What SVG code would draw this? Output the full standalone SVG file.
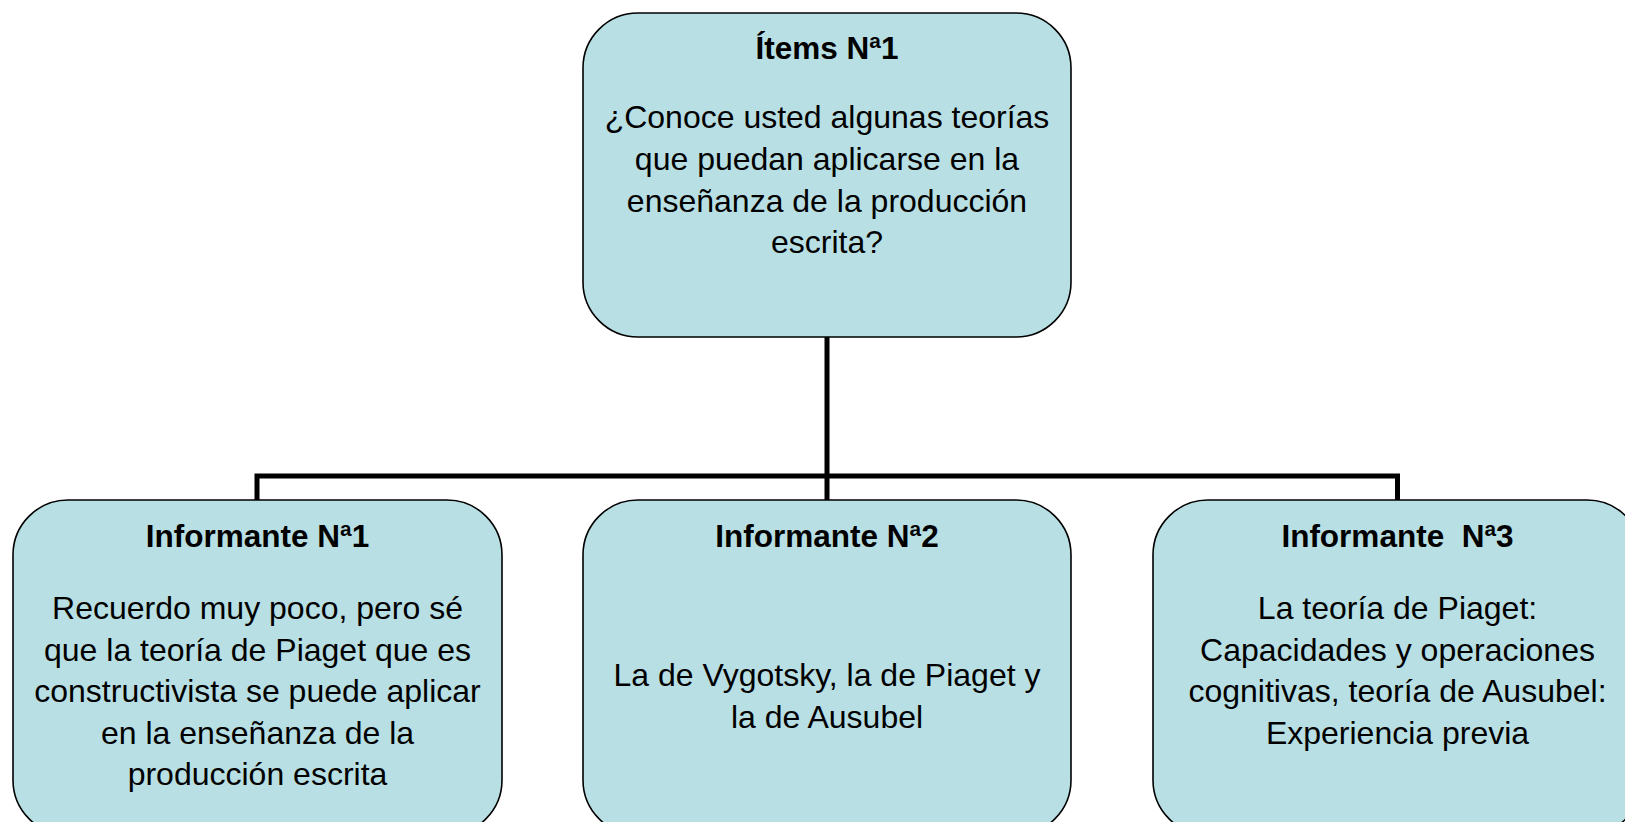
<svg xmlns="http://www.w3.org/2000/svg" width="1625" height="822" viewBox="0 0 1625 822">
<style>
.box{fill:#B8DFE3;stroke:#000;stroke-width:1.6}
.t{font-family:"Liberation Sans",Arial,sans-serif;font-weight:bold;font-size:31.5px;text-anchor:middle;fill:#000}
.b{font-family:"Liberation Sans",Arial,sans-serif;font-size:32px;text-anchor:middle;fill:#000}
.c{fill:none;stroke:#000;stroke-width:5}
</style>
<rect width="1625" height="822" fill="#fff"/>
<g id="connectors">
<path class="c" d="M827 337 V500"/>
<path class="c" d="M257 500 V476 H1397.5 V500"/>
</g>
<g id="items1">
<rect class="box" x="583" y="13" width="488" height="324" rx="55" ry="55"/>
<text class="t" x="827" y="59">Ítems Nª1</text>
<text class="b" x="827" y="128">¿Conoce usted algunas teorías</text>
<text class="b" x="827" y="170">que puedan aplicarse en la</text>
<text class="b" x="827" y="212">enseñanza de la producción</text>
<text class="b" x="827" y="253">escrita?</text>
</g>
<g id="informante1">
<rect class="box" x="13" y="500" width="489" height="335" rx="55" ry="55"/>
<text class="t" x="257.5" y="547">Informante Nª1</text>
<text class="b" x="257.5" y="619">Recuerdo muy poco, pero sé</text>
<text class="b" x="257.5" y="660.5">que la teoría de Piaget que es</text>
<text class="b" x="257.5" y="702">constructivista se puede aplicar</text>
<text class="b" x="257.5" y="743.5">en la enseñanza de la</text>
<text class="b" x="257.5" y="785">producción escrita</text>
</g>
<g id="informante2">
<rect class="box" x="583" y="500" width="488" height="335" rx="55" ry="55"/>
<text class="t" x="827" y="547">Informante Nª2</text>
<text class="b" x="827" y="686">La de Vygotsky, la de Piaget y</text>
<text class="b" x="827" y="727.5">la de Ausubel</text>
</g>
<g id="informante3">
<rect class="box" x="1153" y="500" width="489" height="335" rx="55" ry="55"/>
<text class="t" x="1397.5" y="547" xml:space="preserve">Informante  Nª3</text>
<text class="b" x="1397.5" y="619">La teoría de Piaget:</text>
<text class="b" x="1397.5" y="660.5">Capacidades y operaciones</text>
<text class="b" x="1397.5" y="702">cognitivas, teoría de Ausubel:</text>
<text class="b" x="1397.5" y="743.5">Experiencia previa</text>
</g>
</svg>
